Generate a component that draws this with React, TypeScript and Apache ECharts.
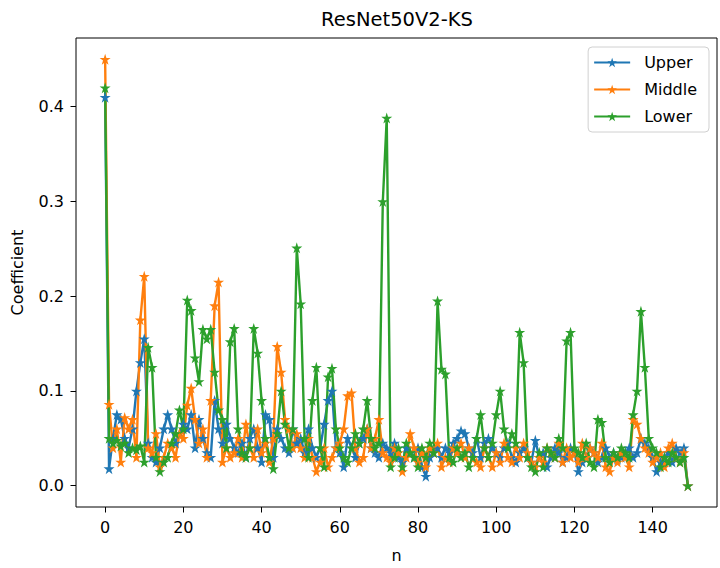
import React, { useEffect, useRef } from "react";
import * as echarts from "echarts";

const upper: number[] = [
  0.41, 0.018, 0.05, 0.075, 0.07, 0.05, 0.04, 0.06, 0.1, 0.13,
  0.155, 0.045, 0.03, 0.025, 0.04, 0.06, 0.075, 0.06, 0.045, 0.055,
  0.065, 0.06, 0.075, 0.04, 0.07, 0.05, 0.035, 0.03, 0.09, 0.06,
  0.045, 0.065, 0.05, 0.04, 0.035, 0.045, 0.03, 0.05, 0.06, 0.04,
  0.025, 0.075, 0.07, 0.03, 0.06, 0.05, 0.04, 0.035, 0.06, 0.045,
  0.05, 0.035, 0.06, 0.04, 0.03, 0.04, 0.065, 0.09, 0.1, 0.04,
  0.035, 0.02, 0.05, 0.04, 0.03, 0.045, 0.05, 0.06, 0.04, 0.035,
  0.03, 0.045, 0.04, 0.035, 0.045, 0.03, 0.025, 0.04, 0.035, 0.03,
  0.04, 0.02, 0.01, 0.03, 0.035, 0.04, 0.03, 0.04, 0.035, 0.045,
  0.05, 0.058, 0.055, 0.04, 0.035, 0.05, 0.03, 0.045, 0.05, 0.04,
  0.035, 0.03, 0.04, 0.045, 0.03, 0.025, 0.035, 0.04, 0.03, 0.025,
  0.048, 0.03, 0.035, 0.02, 0.03, 0.04, 0.035, 0.025, 0.03, 0.04,
  0.035, 0.015, 0.025, 0.03, 0.04, 0.035, 0.025, 0.03, 0.04, 0.03,
  0.035, 0.028, 0.03, 0.035, 0.04, 0.03, 0.035, 0.05, 0.045, 0.04,
  0.03, 0.015, 0.025, 0.03, 0.035, 0.025, 0.04, 0.035, 0.04, 0.0,
];

const middle: number[] = [
  0.45, 0.086, 0.04, 0.06, 0.025, 0.072, 0.06, 0.07, 0.03, 0.175,
  0.221, 0.04, 0.035, 0.055, 0.02, 0.03, 0.045, 0.04, 0.03, 0.055,
  0.05, 0.085, 0.103, 0.07, 0.045, 0.06, 0.03, 0.09, 0.19, 0.215,
  0.025, 0.04, 0.03, 0.035, 0.05, 0.03, 0.065, 0.04, 0.03, 0.06,
  0.035, 0.045, 0.025, 0.05, 0.147, 0.12, 0.07, 0.06, 0.04, 0.055,
  0.04, 0.03, 0.05, 0.03, 0.015, 0.025, 0.04, 0.02, 0.03, 0.04,
  0.045, 0.06, 0.095, 0.098, 0.04, 0.025, 0.03, 0.06, 0.04, 0.05,
  0.07, 0.035, 0.03, 0.025, 0.04, 0.035, 0.015, 0.03, 0.055, 0.04,
  0.025, 0.035, 0.02, 0.04, 0.035, 0.045, 0.02, 0.03, 0.025, 0.04,
  0.035, 0.045, 0.03, 0.04, 0.03, 0.025, 0.02, 0.04, 0.03, 0.02,
  0.035, 0.025, 0.045, 0.03, 0.025, 0.04, 0.03, 0.045, 0.035, 0.025,
  0.02, 0.03, 0.025, 0.04, 0.035, 0.03, 0.045, 0.025, 0.04, 0.03,
  0.035, 0.025, 0.045, 0.03, 0.04, 0.035, 0.03, 0.045, 0.02, 0.015,
  0.03, 0.025, 0.035, 0.03, 0.02, 0.07, 0.065, 0.05, 0.04, 0.035,
  0.025, 0.03, 0.035, 0.02, 0.04, 0.045, 0.03, 0.025, 0.035, 0.0,
];

const lower: number[] = [
  0.42, 0.05, 0.045, 0.048, 0.042, 0.045, 0.035, 0.04, 0.038, 0.042,
  0.025, 0.146, 0.125, 0.03, 0.015, 0.025, 0.03, 0.045, 0.055, 0.08,
  0.06, 0.196, 0.185, 0.135, 0.11, 0.165, 0.155, 0.165, 0.12, 0.08,
  0.07, 0.04, 0.152, 0.166, 0.06, 0.035, 0.03, 0.04, 0.166, 0.14,
  0.09, 0.05, 0.03, 0.018, 0.055, 0.1, 0.065, 0.04, 0.06, 0.251,
  0.192, 0.05, 0.03, 0.09, 0.125, 0.04, 0.02, 0.115, 0.124, 0.06,
  0.04, 0.03, 0.025, 0.04, 0.055, 0.045, 0.06, 0.09, 0.05, 0.04,
  0.045, 0.3, 0.388, 0.02, 0.03, 0.04, 0.02, 0.045, 0.035, 0.03,
  0.02, 0.04, 0.03, 0.045, 0.035, 0.195, 0.123, 0.118, 0.03, 0.025,
  0.04, 0.03, 0.035, 0.02, 0.03, 0.05, 0.075, 0.04, 0.03, 0.045,
  0.075, 0.1, 0.06, 0.04, 0.055, 0.045, 0.162, 0.13, 0.03, 0.02,
  0.015, 0.035, 0.02, 0.04, 0.035, 0.03, 0.05, 0.04, 0.153, 0.162,
  0.04, 0.035, 0.03, 0.045, 0.025, 0.02, 0.07, 0.067, 0.03, 0.025,
  0.035, 0.03, 0.04, 0.035, 0.03, 0.075, 0.1, 0.184, 0.125, 0.05,
  0.04, 0.035, 0.02, 0.03, 0.025, 0.035, 0.03, 0.025, 0.03, 0.0,
];

const xTicks: number[] = [0, 20, 40, 60, 80, 100, 120, 140];
const yTicks: number[] = [0, 0.1, 0.2, 0.3, 0.4];

const titleText = "ResNet50V2-KS";
const seriesNames = ["Upper", "Middle", "Lower"];
const seriesColors = ["#1f77b4", "#ff7f0e", "#2ca02c"];

const STAR =
  "path://M50,0 L61.2,34.5 L97.6,34.5 L68.2,55.9 L79.4,90.5 L50,69.1 L20.6,90.5 L31.8,55.9 L2.4,34.5 L38.8,34.5 Z";

const FONT = "DejaVu Sans";

export default function App() {
  const ref = useRef<HTMLDivElement>(null);
  useEffect(() => {
    if (!ref.current) return;
    const chart = echarts.init(ref.current, undefined, { renderer: "svg" });
    const all = [upper, middle, lower];
    const n = upper.length;
    const xMin = -(n - 1) * 0.05;
    const xMax = n - 1 + (n - 1) * 0.05;
    const yMax0 = Math.max(...upper, ...middle, ...lower);
    const yMin = -yMax0 * 0.05;
    const yMax = yMax0 * 1.05;
    chart.setOption({
      animation: false,
      backgroundColor: "#ffffff",
      textStyle: { fontFamily: FONT },
      graphic: [
        {
          type: "text",
          x: 397,
          y: 19,
          style: {
            text: titleText,
            fill: "#000",
            fontFamily: FONT,
            fontSize: 19.5,
            align: "center",
            verticalAlign: "middle",
          },
        },
      ],
      grid: {
        left: 76,
        right: 3,
        top: 38,
        bottom: 53,
        show: true,
        borderColor: "#000",
        borderWidth: 1,
        backgroundColor: "transparent",
      },
      legend: {
        orient: "vertical",
        right: 11,
        top: 47,
        itemWidth: 36,
        itemHeight: 12,
        itemGap: 8,
        padding: [6, 12, 6, 5],
        borderColor: "#d0d0d0",
        borderWidth: 1,
        borderRadius: 4,
        backgroundColor: "rgba(255,255,255,0.8)",
        textStyle: {
          fontFamily: FONT,
          fontSize: 16,
          lineHeight: 19,
          color: "#000",
          padding: [0, 0, 0, 9],
        },
        data: seriesNames,
      },
      xAxis: {
        type: "value",
        min: xMin,
        max: xMax,
        name: "n",
        nameLocation: "middle",
        nameGap: 40,
        nameTextStyle: { fontFamily: FONT, fontSize: 16, color: "#000" },
        axisLine: { show: false, onZero: false },
        splitLine: { show: false },
        axisTick: {
          show: true,
          length: 5.5,
          lineStyle: { color: "#000" },
          customValues: xTicks,
        },
        axisLabel: {
          fontFamily: FONT,
          fontSize: 16,
          color: "#000",
          margin: 12,
          customValues: xTicks,
          formatter: (v: number) => String(v),
        },
      },
      yAxis: {
        type: "value",
        min: yMin,
        max: yMax,
        name: "Coefficient",
        nameLocation: "middle",
        nameGap: 51,
        nameTextStyle: { fontFamily: FONT, fontSize: 16, color: "#000" },
        axisLine: { show: false, onZero: false },
        splitLine: { show: false },
        axisTick: {
          show: true,
          length: 5.5,
          lineStyle: { color: "#000" },
          customValues: yTicks,
        },
        axisLabel: {
          fontFamily: FONT,
          fontSize: 16,
          color: "#000",
          margin: 12,
          customValues: yTicks,
          formatter: (v: number) => v.toFixed(1),
        },
      },
      series: all.map((arr, i) => ({
        name: seriesNames[i],
        type: "line",
        data: arr.map((v, k) => [k, v]),
        symbol: STAR,
        symbolSize: 11,
        showAllSymbol: true,
        color: seriesColors[i],
        lineStyle: { width: 2.4, color: seriesColors[i] },
        itemStyle: { color: seriesColors[i] },
        emphasis: { disabled: true },
      })),
    });
    return () => chart.dispose();
  }, []);
  return <div ref={ref} style={{ width: 720, height: 568, position: "absolute", left: 0, top: 0 }} />;
}
